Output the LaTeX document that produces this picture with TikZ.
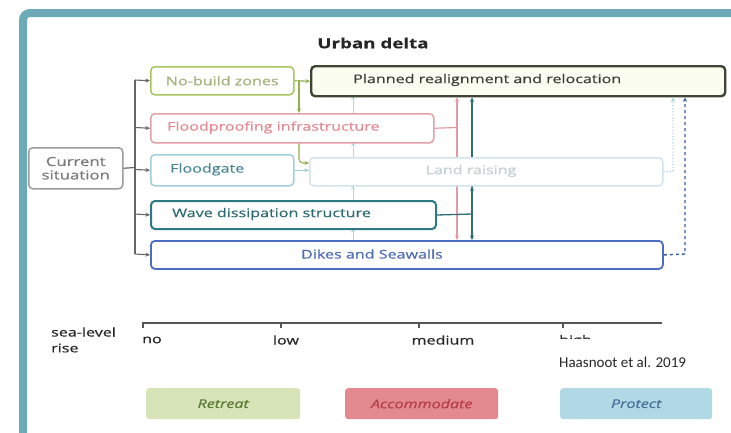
\documentclass[tikz,border=0pt]{standalone}
\usepackage{fontspec}
\setmainfont{Open Sans}[FakeBold=0.35]
\newfontfamily\carl{Carlito}
\usepackage{graphicx}
\usetikzlibrary{arrows.meta}
\pgfdeclarelayer{bg}
\pgfdeclarelayer{conn}
\pgfsetlayers{bg,conn,main}
\newcommand{\hs}[1]{\scalebox{1.34}[1]{#1}}
\definecolor{frameteal}{HTML}{6DAAB8}
\definecolor{nbdraw}{HTML}{A8C660}
\definecolor{nbtext}{HTML}{A0B47A}
\definecolor{prdraw}{HTML}{3E4533}
\definecolor{prfill}{HTML}{FCFDF1}
\definecolor{prtext}{HTML}{3D3D38}
\definecolor{fpdraw}{HTML}{E3A0A7}
\definecolor{fptext}{HTML}{E58A93}
\definecolor{fgdraw}{HTML}{9ED0DC}
\definecolor{fgtext}{HTML}{4A8897}
\definecolor{lrdraw}{HTML}{D2E5EB}
\definecolor{lrtext}{HTML}{C4D0D4}
\definecolor{wddraw}{HTML}{2D7A82}
\definecolor{wdtext}{HTML}{2C6A72}
\definecolor{dkdraw}{HTML}{4B6DC2}
\definecolor{dktext}{HTML}{4F6DB3}
\definecolor{curdraw}{HTML}{9C9C9C}
\definecolor{curtext}{HTML}{7A7A7A}
\definecolor{trunk}{HTML}{666666}
\definecolor{greenc}{HTML}{8FB04A}
\definecolor{lightc}{HTML}{B5D4DE}
\definecolor{pinkc}{HTML}{E39AA1}
\definecolor{tealc}{HTML}{2E6F78}
\definecolor{dashc}{HTML}{3B5BA5}
\definecolor{dotc}{HTML}{A6D2E0}
\definecolor{retfill}{HTML}{D6E4B8}
\definecolor{rettext}{HTML}{5B7A35}
\definecolor{accfill}{HTML}{E28A8F}
\definecolor{acctext}{HTML}{B53E4A}
\definecolor{profill}{HTML}{B1D9E5}
\definecolor{protext}{HTML}{4A6F9A}
\definecolor{axisc}{HTML}{555555}
\tikzset{
  box/.style={draw, rounded corners=4pt, line width=1.5pt, fill=white, inner sep=0pt, anchor=north west},
  txt/.style={inner sep=0pt, font=\fontsize{12}{14}\selectfont},
  arr/.style={-{Stealth[length=4.5pt,width=4pt]}, line width=1.1pt},
  legbox/.style={rounded corners=3pt, inner sep=0pt, anchor=north west, minimum height=31pt},
  ticklab/.style={txt, text=black!85},
}
\begin{document}
\begin{tikzpicture}[x=1pt,y=-1pt]
\useasboundingbox (0,0) rectangle (731,432);
\clip (0,0) rectangle (731,432);
\begin{pgfonlayer}{bg}
  \fill[white] (0,0) rectangle (731,432);
  \draw[frameteal, line width=8pt, rounded corners=7pt] (23,445) -- (23,13) -- (745,13);
\end{pgfonlayer}

% title
\node[txt, font=\fontsize{14}{16}\selectfont\bfseries, text=black!85] (title) at (373,43) {\hs{Urban delta}};

% boxes
\node[box, draw=curdraw, minimum width=94pt, minimum height=41pt] (cur) at (28,147) {};
\node[txt, text=curtext, align=center, font=\fontsize{12.5}{13.5}\selectfont] (tcur) at (cur.center) {\hs{Current}\\\hs{situation}};

\node[box, draw=nbdraw, fill=white, minimum width=143pt, minimum height=28pt] (nb) at (150,66) {};
\node[txt, text=nbtext] (tnb) at (nb.center) {\hs{No-build zones}};

\node[box, draw=prdraw, fill=prfill, line width=2.4pt, minimum width=414pt, minimum height=30pt] (pr) at (310,65) {};
\node[txt, text=prtext, anchor=west] (tpr) at (353,80) {\hs{Planned realignment and relocation}};

\node[box, draw=fpdraw, minimum width=283pt, minimum height=29pt] (fp) at (150,113) {};
\node[txt, text=fptext, anchor=west] (tfp) at (167,127.5) {\hs{Floodproofing infrastructure}};

\node[box, draw=fgdraw, minimum width=143pt, minimum height=31pt] (fg) at (150,154) {};
\node[txt, text=fgtext, anchor=west] (tfg) at (170,169.5) {\hs{Floodgate}};

\node[box, draw=lrdraw, minimum width=353pt, minimum height=28pt] (lr) at (309,157) {};
\node[txt, text=lrtext] (tlr) at (471,171) {\hs{Land raising}};

\node[box, draw=wddraw, line width=2pt, minimum width=285pt, minimum height=28pt] (wd) at (150,200) {};
\node[txt, text=wdtext, anchor=west] (twd) at (172,214) {\hs{Wave dissipation structure}};

\node[box, draw=dkdraw, line width=1.8pt, minimum width=512pt, minimum height=28pt] (dk) at (150,240) {};
\node[txt, text=dktext] (tdk) at (372,254) {\hs{Dikes and Seawalls}};

% connectors
\begin{pgfonlayer}{conn}
  \coordinate (trTop) at (135,80);
  \coordinate (trBot) at (135,254);
  \draw[trunk, line width=1.2pt] (cur.east) -- (135,167.5);
  \draw[trunk, line width=1.2pt] (trTop) -- (trBot);
  \draw[arr, trunk] (trTop) -- (nb.west);
  \draw[arr, trunk] (135,127.5) -- (fp.west);
  \draw[arr, trunk] (135,169.5) -- (fg.west);
  \draw[arr, trunk] (135,214) -- (wd.west);
  \draw[arr, trunk] (trBot) -- (dk.west);

  % green
  \draw[arr, greenc] (nb.east) -- (pr.west);
  \coordinate (gj) at (299,80);
  \draw[arr, greenc] (gj) -- (gj |- fp.north);
  \draw[arr, greenc, rounded corners=4pt] (299,142) -- (299,163) -- (309,163);
  \draw[arr, fgdraw] (fg.east) -- (fg.east -| lr.west);

  % light up arrows
  \draw[arr, lightc, line width=0.9pt] (353,113) -- (353,95);
  \draw[arr, lightc, line width=0.9pt] (353,157) -- (353,142);
  \draw[arr, lightc, line width=0.9pt] (353,200) -- (353,185);
  \draw[arr, lightc, line width=0.9pt] (353,240) -- (353,228);

  % pink
  \coordinate (pj) at (457,127.5);
  \draw[pinkc, line width=1.2pt] (fp.east) -- (pj);
  \draw[arr, pinkc, line width=1.2pt] (pj) -- (pj |- pr.south);
  \draw[arr, pinkc, line width=1.2pt] (pj) -- (pj |- dk.north);

  % teal
  \coordinate (tj) at (472,214);
  \draw[tealc, line width=1.3pt] (wd.east) -- (tj);
  \draw[arr, tealc, line width=1.3pt] (tj) -- (tj |- pr.south);
  \draw[arr, tealc, line width=1.3pt] (tj) -- (tj |- lr.south);
  \draw[arr, tealc, line width=1.3pt] (tj) -- (tj |- dk.north);

  % right side
  \coordinate (dj) at (673,171);
  \coordinate (ej) at (685,254);
  \draw[arr, dotc, dotted, line width=1.1pt] (lr.east) -- (dj) -- (dj |- pr.south);
  \draw[arr, dashc, dashed, line width=1.4pt] (dk.east) -- (ej) -- (ej |- pr.south);
\end{pgfonlayer}

% axis
\coordinate (ax0) at (142,323);
\coordinate (ax1) at (662,323);
\draw[axisc, line width=1.5pt] (ax0) -- (ax1);
\foreach \xx in {143,281,419,563} \draw[axisc, line width=1.2pt] (\xx,323) -- (\xx,328);
\node[txt, text=black!85, anchor=west] (slr1) at (51,332) {\hs{sea-level}};
\node[txt, text=black!85, anchor=west] (slr2) at (51,348) {\hs{rise}};
\node[ticklab, anchor=west] (lno) at (142,340) {\hs{no}};
\node[ticklab] (llow) at (286,340) {\hs{low}};
\node[ticklab] (lmed) at (443,340) {\hs{medium}};
\node[ticklab, anchor=west] (lhigh) at (559,341) {\hs{high}};
\fill[white] (550,338.5) rectangle (705,380);
\node[inner sep=0pt, anchor=west, font=\carl\fontsize{15}{17}\selectfont, text=black!85] (ref) at (559,362) {Haasnoot et al. 2019};

% legend
\node[legbox, fill=retfill, minimum width=154pt] (ret) at (146,388) {};
\node[txt, text=rettext, font=\fontsize{12}{14}\selectfont\itshape] (tret) at (ret.center) {\hs{Retreat}};
\node[legbox, fill=accfill, minimum width=153pt] (acc) at (345,388) {};
\node[txt, text=acctext, font=\fontsize{12}{14}\selectfont\itshape] (tacc) at (acc.center) {\hs{Accommodate}};
\node[legbox, fill=profill, minimum width=152pt] (pro) at (560,388) {};
\node[txt, text=protext, font=\fontsize{12}{14}\selectfont\itshape] (tpro) at (pro.center) {\hs{Protect}};
\end{tikzpicture}
\end{document}
